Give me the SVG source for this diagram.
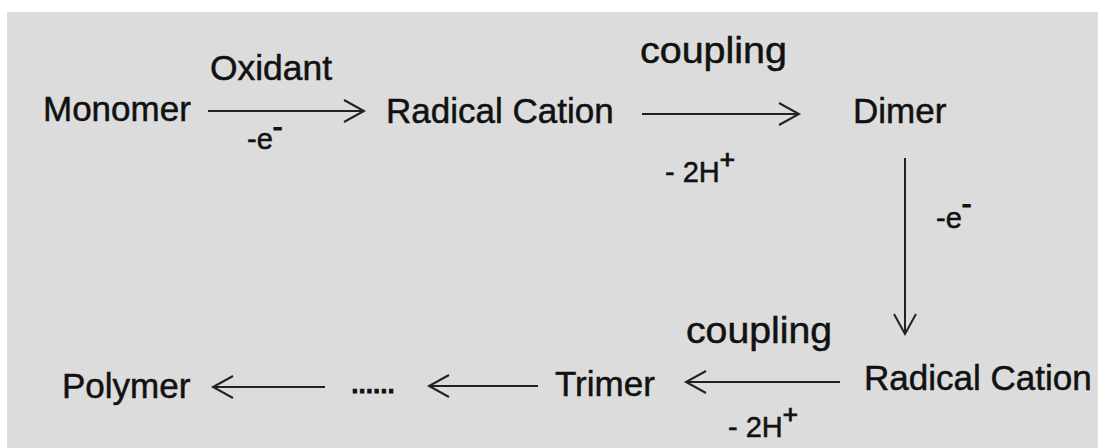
<svg xmlns="http://www.w3.org/2000/svg" width="1098" height="448" viewBox="0 0 1098 448">
<defs>
<style>
.t{font-family:"Liberation Sans",Arial,sans-serif;font-size:35px;fill:#111;stroke:#111;stroke-width:0.5;}
.s{font-family:"Liberation Sans",Arial,sans-serif;font-size:29px;fill:#111;stroke:#111;stroke-width:0.5;}
.c{stroke:#222;stroke-width:2;fill:none;}
</style>
<marker id="ah" markerUnits="userSpaceOnUse" markerWidth="26" markerHeight="28" refX="22" refY="13" orient="auto">
<path d="M2,2 L22,13 L2,24" fill="none" stroke="#222" stroke-width="2"/>
</marker>
</defs>
<rect x="0" y="0" width="1098" height="448" fill="#ffffff"/>
<rect x="7" y="12" width="1091" height="436" fill="#dcdcdc"/>
<g id="monomer"><text class="t" x="43" y="121">Monomer</text></g>
<g id="radical-cation-1"><text class="t" x="386" y="123">Radical Cation</text></g>
<g id="dimer"><text class="t" x="853" y="123">Dimer</text></g>
<g id="radical-cation-2"><text class="t" x="864" y="390">Radical Cation</text></g>
<g id="trimer"><text class="t" x="555" y="396">Trimer</text></g>
<g id="ellipsis"><text class="t" x="350" y="393" textLength="46" lengthAdjust="spacing" style="stroke-width:1">......</text></g>
<g id="polymer"><text class="t" x="62" y="398">Polymer</text></g>
<g id="connectors">
<line class="c" x1="208" y1="111" x2="364" y2="111" marker-end="url(#ah)"/>
<line class="c" x1="642" y1="114" x2="799" y2="114" marker-end="url(#ah)"/>
<line class="c" x1="905" y1="158" x2="905" y2="334" marker-end="url(#ah)"/>
<line class="c" x1="840" y1="382" x2="686" y2="382" marker-end="url(#ah)"/>
<line class="c" x1="538" y1="386" x2="429" y2="386" marker-end="url(#ah)"/>
<line class="c" x1="325" y1="387" x2="213" y2="387" marker-end="url(#ah)"/>
</g>
<g id="labels">
<text class="t" x="210" y="80" textLength="122" lengthAdjust="spacingAndGlyphs">Oxidant</text>
<text class="s" x="247" y="149">-e<tspan dy="-12" style="stroke-width:1.2">-</tspan></text>
<text class="t" x="640" y="63" style="font-size:37px" textLength="147" lengthAdjust="spacingAndGlyphs">coupling</text>
<text class="s" x="665" y="182">- 2H<tspan dy="-14" font-size="26" style="stroke-width:1">+</tspan></text>
<text class="s" x="936" y="228">-e<tspan dy="-14" style="stroke-width:1.2">-</tspan></text>
<text class="t" x="686" y="343" style="font-size:37px" textLength="146" lengthAdjust="spacingAndGlyphs">coupling</text>
<text class="s" x="728" y="437">- 2H<tspan dy="-14" font-size="26" style="stroke-width:1">+</tspan></text>
</g>
</svg>
